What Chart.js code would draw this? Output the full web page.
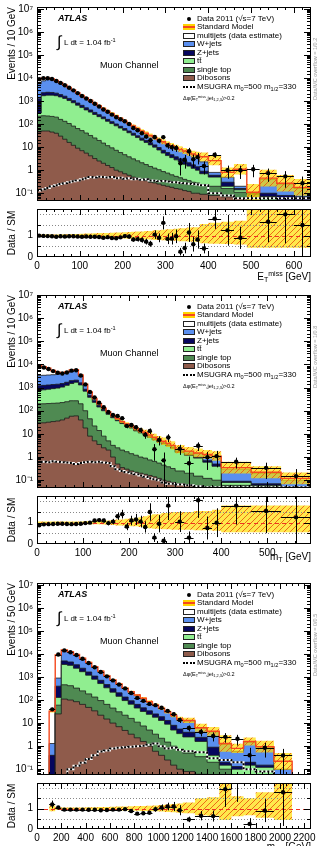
<!DOCTYPE html>
<html>
<head>
<meta charset="utf-8">
<title>Muon channel control distributions</title>
<script src="https://cdn.jsdelivr.net/npm/chart.js@4.4.1/dist/chart.umd.min.js"></script>
<style>
  html, body { margin: 0; padding: 0; background: #fff; }
  body { position: relative; width: 321px; height: 846px; overflow: hidden;
         font-family: "Liberation Sans", Arial, Helvetica, sans-serif; color: #000; }
  canvas { position: absolute; left: 0; }
  .lbl { position: absolute; white-space: nowrap; line-height: 1; }
  .lbl sub { font-size: 70%; vertical-align: -0.3em; line-height: 0; }
  .lbl sup { font-size: 70%; vertical-align: 0.55em; line-height: 0; }
  .atlas { font-weight: bold; font-style: italic; font-size: 9px; }
  .leg { font-size: 8px; }
  .sw { position: absolute; width: 12px; height: 6px; box-sizing: border-box; border: 1px solid #222; }
  .ovf { font-size: 5.5px; color: #999; transform-origin: left top; transform: rotate(-90deg); }
  .xt { font-size: 10px; }
</style>
</head>
<body>
<canvas id="main1" width="321" height="205" style="top:0px"></canvas>
<canvas id="ratio1" width="321" height="80" style="top:205px"></canvas>
<canvas id="main2" width="321" height="204" style="top:288px"></canvas>
<canvas id="ratio2" width="321" height="80" style="top:492px"></canvas>
<canvas id="main3" width="321" height="203" style="top:576px"></canvas>
<canvas id="ratio3" width="321" height="67" style="top:779px"></canvas>
<script>
// ---- E_T^miss panel (Events / 10 GeV). Stack arrays are the top edge of each layer.
const metEdges = [0,10,20,30,40,50,60,70,80,90,100,110,120,130,140,150,160,170,180,190,200,210,220,230,240,250,260,270,280,290,300,310,320,330,340,350,360,370,380,400,430,460,490,520,560,600,640];
const metDibosons = [45,50,50,45,40, 30,22,16,12,9, 7,5.5,4.2,3.2,2.5, 2.0,1.6,1.3,1.0,0.85, 0.7,0.6,0.5,0.45,0.4, 0.35,0.3,0.28,0.25,0.22, 0.2,0.18,0.16,0.15,0.13,0.12,0.1, 0.1, 0.09,0.08,0.07,0.06,0.05,0.04,0.03,0.03];
const metSingleTop = [220,230,225,215,200, 160,132,106,82,64, 52,41,32,25,19.5, 15,11.6,9.3,7.3,5.85, 4.7,3.8,3.1,2.55,2.1, 1.75,1.45,1.23,1.05,0.87, 0.75,0.63,0.54,0.47,0.4,0.35,0.3, 0.28, 0.24,0.2,0.16,0.11,0.09,0.07,0.05,0.05];
const metTtbar = [300,1700,1800,1800,1700, 1500,1300,1050,840,660, 520,410,330,260,210, 170,132,105,84,67, 54,42,33,26,20, 16,12.5,10,7.5,5.5, 4.3,3.5,2.8,2.3,1.8,1.5,1.2, 1.0, 0.7,0.5,0.2,0.14,0.09,0.07,0.05,0.05];
const metZjets = [1250,2300,2400,2350,2200, 1900,1620,1300,1040,820, 650,510,410,320,255, 205,160,127,101,80, 64,50,40,31,24.5, 19.5,15.5,12.5,9.6,7.3, 5.8,4.7,3.8,3.1,2.5,2.1,1.7, 1.4, 0.9,0.6,0.3,0.16,0.1,0.1,0.08,0.07];
const metWjets = [5600,7500,8500,8600,7500, 6200,4950,3870,2985,2292, 1745,1347,1048,798,619, 479,369,289,224,174, 134,104,81,63,49.5, 39.6,31.7,25.7,20.8,16.8, 13.8,11.3,9.3,7.8,6.6,5.6,4.8, 4.3, 2.3,0.8,0.5,0.2,0.1,0.4,0.25,0.16];
const metSM = [8900,10000,10000,9300,7800, 6300,5000,3900,3000,2300, 1750,1350,1050,800,620, 480,370,290,225,175, 135,105,82,64,50, 40,32,26,21,17, 14,11.5,9.5,8,6.8,5.8,5.0, 4.5, 3.8,2.6,0.8,1.1,0.11,0.45,0.27,0.18];
const metDataOverSM = [1.00,0.99,0.98,0.97,0.95, 0.97,0.96,0.97,0.97,0.96, 0.95,0.96,0.95,0.95,0.94, 0.90,0.93,0.89,0.88,0.92, 0.98,0.96,0.82,0.84,0.80, 0.72,0.62,1.05,0.90,1.60, 0.85,0.86,0.97,0.25,0.42,1.15,0.60, 0.82, 0.40,1.80,1.25,0.90,10,1.65,2.0,1.5];
const metMsugra = [0.13,0.15,0.17,0.2,0.22, 0.25,0.27,0.3,0.33,0.36, 0.4,0.45,0.5,0.48,0.52, 0.5,0.48,0.5,0.45,0.47, 0.42,0.45,0.4,0.42,0.38, 0.4,0.36,0.35,0.33,0.34, 0.32,0.3,0.3,0.28,0.27,0.26,0.25, 0.24, 0.22,0.1,0.08,0.06,0.06,0.06,0.06,0.06];
const metUnc = [0.05,0.05,0.05,0.05,0.06, 0.06,0.07,0.07,0.08,0.08, 0.09,0.1,0.1,0.11,0.12, 0.12,0.13,0.14,0.15,0.15, 0.16,0.17,0.18,0.2,0.2, 0.22,0.22,0.25,0.25,0.28, 0.3,0.3,0.32,0.35,0.35,0.38,0.4, 0.4, 0.55,0.6,0.65,0.7,1.3,1.3,1.3,1.3];

// ---- m_T panel (Events / 10 GeV)
const mtEdges = [0,10,20,30,40,50,60,70,80,90,100,110,120,130,140,150,160,170,180,190,200,210,220,230,240,250,260,270,280,290,300,320,340,360,380,400,465,530,595];
const mtDibosons = [30,30,32,34,36, 40,48,58,60,40, 18,8,5,3.5,2.5, 2.0,1.0,0.5,0.35,0.3, 0.25,0.22,0.2,0.18,0.16, 0.14,0.12,0.1,0.09,0.08, 0.07,0.06,0.05,0.05,0.04, 0.03,0.03,0.02];
const mtSingleTop = [200,200,205,210,215, 225,245,270,270,200, 100,45,22,14,8, 5,3.2,2.5,2.0,1.7, 1.4,1.2,1.0,0.9,0.75, 0.65,0.55,0.45,0.38,0.32, 0.25,0.2,0.15,0.12,0.1, 0.06,0.06,0.05];
const mtTtbar = [750,800,850,900,950, 1050,1250,1500,1700,1300, 700,380,230,145,100, 70,50,37,28,22, 18,13.5,11,9,7, 5.6,4.5,3.7,3.0,2.4, 1.6,1.2,0.9,0.6,0.4, 0.08,0.06,0.05];
const mtZjets = [1200,1250,1300,1350,1400, 1500,1700,2000,2100,1600, 850,450,270,170,115, 80,56,41,31,24.5, 20,15.2,12.3,10,7.8, 6.2,5.0,4.1,3.3,2.65, 1.8,1.35,1.0,0.7,0.5, 0.09,0.07,0.05];
const mtWjets = [3300,3400,3500,3600,3800, 4100,4700,5700,5950,3480, 1395,648,339,199,129, 89,61.5,45.5,33.7,26.8, 21.8,16.8,13.8,11.3,8.8, 7.0,5.6,4.65,3.75,3.1, 2.1,1.7,1.4,1.2,1.0, 0.3,0.2,0.1];
const mtSM = [9000,8000,6800,5500,4600, 4300,4800,5800,6000,3500, 1400,650,340,200,130, 90,62,46,34,27, 22,17,14,11.5,9.0, 7.2,5.8,4.8,3.9,3.2, 2.2,1.8,1.5,1.3,1.1, 0.35,0.22,0.12];
const mtDataOverSM = [0.88,0.92,0.93,0.94,0.95, 0.95,0.94,0.93,0.94,0.95, 0.98,1.0,1.1,1.12,1.1, 0.98,1.05,1.3,1.4,0.82, 1.1,1.15,1.05,0.8,1.5, 0.3,0.95,0.15,1.8,null, 1.05,0.3,2.05,0.75,1.0, 1.8,1.55,1.25];
const mtMsugra = [0.6,0.62,0.6,0.65,0.62, 0.6,0.58,0.55,0.5,0.55, 0.6,0.62,0.6,0.63,0.58, 0.55,0.4,0.3,0.25,0.22, 0.2,0.18,0.16,0.14,0.12, 0.11,0.1,0.08,0.07,0.07, 0.065,0.06,0.055,0.05,0.05, 0.05,0.05,0.05];
const mtUnc = [0.05,0.05,0.05,0.05,0.05, 0.05,0.05,0.05,0.05,0.06, 0.07,0.08,0.08,0.08,0.09, 0.1,0.12,0.15,0.15,0.18, 0.2,0.2,0.25,0.3,0.35, 0.4,0.4,0.45,0.45,0.5, 0.5,0.5,0.55,0.55,0.6, 0.8,0.8,0.8];

// ---- m_eff panel (Events / 50 GeV)
const meffEdges = [100,150,200,250,300,350,400,450,500,550,600,650,700,750,800,850,900,950,1000,1050,1100,1150,1200,1300,1400,1500,1600,1700,1800,1950,2100];
const meffDibosons = [0.03,25,110,100,85, 65,48,34,22,15, 10,7,4.8,3.3,2.3, 1.6,1.0,0.6,0.4,0.25, 0.15,0.1, 0.08,0.06,0.04,0.03,0.02,0.02,0.02,0.01];
const meffSingleTop = [0.04,60,460,420,330, 250,185,135,95,65, 45,31,22,16,11, 7.5,5,3.3,2.2,1.5, 1.0,0.7, 0.5,0.35,0.2,0.1,0.05,0.05,0.04,0.02];
const meffTtbar = [0.05,130,3500,3200,2400, 1700,1200,800,520,340, 220,145,95,66,45, 32,24,18,13,9, 5,3.5, 2.5,1.6,0.4,0.15,0.1,0.15,0.12,0.03];
const meffZjets = [0.4,400,5000,4500,3400, 2400,1650,1100,720,470, 310,205,135,93,65, 46,34,25,19,13, 8,5.5, 4,2.4,0.9,0.2,0.13,0.2,0.15,0.04];
const meffWjets = [1.3,900,13000,11500,9000, 6200,4150,2700,1740,1110, 725,485,320,223,160, 116,82,60,42.5,30, 21,14.5, 12.5,6.0,4.2,1.2,0.6,1.5,0.9,0.1];
const meffSM = [33,9000,15000,12500,9500, 6500,4300,2800,1800,1150, 750,500,330,230,165, 120,85,62,44,31, 22,15, 13,6.3,4.4,1.3,0.8,1.6,0.95,0.22];
const meffDataOverSM = [1.2,1.05,0.95,0.95,0.95, 0.95,0.94,0.94,0.92,0.93, 0.95,0.95,0.97,0.88,0.75, 0.77,0.8,0.97,1.05,1.1, 1.1,0.92, 0.47,0.65,0.63,1.95,2.6,0.25,0.9,1.8];
const meffMsugra = [0.01,0.02,0.05,0.1,0.14, 0.19,0.28,0.4,0.58,0.65, 0.8,0.85,0.9,0.95,1.0, 1.05,1.15,1.3,1.0,0.8, 0.85,0.7, 0.6,0.55,0.3,0.25,0.2,0.1,0.08,0.05];
const meffUnc = [0.15,0.06,0.05,0.05,0.05, 0.05,0.06,0.06,0.07,0.08, 0.09,0.1,0.1,0.11,0.12, 0.13,0.14,0.15,0.17,0.2, 0.22,0.25, 0.3,0.5,0.55,1.3,0.6,0.5,0.8,1.3];

Chart.defaults.font.family = '"Liberation Sans", Arial, Helvetica, sans-serif';
Chart.defaults.color = '#000';

const SUP = {'-': '⁻', '0': '⁰', '1': '¹', '2': '²', '3': '³', '4': '⁴', '5': '⁵', '6': '⁶', '7': '⁷', '8': '⁸', '9': '⁹'};
function logLabel(v) {
  const l = Math.log10(v), r = Math.round(l);
  if (Math.abs(l - r) > 1e-6) return '';
  if (r === 0) return '1';
  if (r === 1) return '10';
  return '10' + String(r).split('').map(c => SUP[c]).join('');
}

// histogram outline as points for a stepped line
function steps(edges, vals, close) {
  const pts = [];
  const n = edges.length - 1;
  if (close) pts.push({x: edges[0], y: 1e-4});
  vals.forEach((v, i) => pts.push({x: edges[i], y: v}));
  pts.push({x: edges[n], y: vals[n - 1]});
  if (close) pts.push({x: edges[n], y: 1e-4});
  return pts;
}

function makeHatch() {
  const c = document.createElement('canvas');
  c.width = 6; c.height = 6;
  const g = c.getContext('2d');
  g.fillStyle = 'rgba(255,222,0,0.7)';
  g.fillRect(0, 0, 6, 6);
  g.strokeStyle = 'rgba(235,100,20,0.95)';
  g.lineWidth = 1;
  g.beginPath();
  g.moveTo(0, 6); g.lineTo(6, 0);
  g.moveTo(-3, 3); g.lineTo(3, -3);
  g.moveTo(3, 9); g.lineTo(9, 3);
  g.stroke();
  return g.createPattern(c, 'repeat');
}

// fixed axis boxes so every panel lines up
function fixY(s) { s.width = 37; s.paddingTop = 0; s.paddingBottom = 0; }
function fixX(h) { return s => { s.height = h; s.paddingLeft = 0; s.paddingRight = 0; }; }

// frame, inward ticks, reference lines and error bars (ROOT look)
const rootStyle = {
  id: 'rootStyle',
  beforeDatasetDraw(chart, args, opts) {
    const ds = chart.data.datasets[args.index];
    if (!ds.errorBars) return;
    const {ctx, chartArea: a, scales: {x, y}} = chart;
    ctx.save();
    ctx.beginPath();
    ctx.rect(a.left, a.top, a.right - a.left, a.bottom - a.top);
    ctx.clip();
    const hline = (py) => { ctx.beginPath(); ctx.moveTo(a.left, py); ctx.lineTo(a.right, py); ctx.stroke(); };
    if (opts.ratio) {
      ctx.lineWidth = 1;
      ctx.strokeStyle = '#888';
      ctx.setLineDash([1, 2]);
      [0.5, 1.5, 2].forEach(v => hline(Math.round(y.getPixelForValue(v)) + 0.5));
      ctx.strokeStyle = '#ee3322';
      ctx.setLineDash([4, 3]);
      hline(Math.round(y.getPixelForValue(1)) + 0.5);
      ctx.setLineDash([]);
    }
    const py = v => (v > 0 || !opts.log) ? y.getPixelForValue(v) : a.bottom + 2;
    ctx.strokeStyle = '#000';
    ctx.lineWidth = 1;
    ctx.beginPath();
    ds.data.forEach(p => {
      const cx = Math.round(x.getPixelForValue(p.x)) + 0.5;
      const cy = Math.round(y.getPixelForValue(p.y)) + 0.5;
      ctx.moveTo(cx, py(p.yMax)); ctx.lineTo(cx, py(p.yMin));
      ctx.moveTo(x.getPixelForValue(p.xMin), cy); ctx.lineTo(x.getPixelForValue(p.xMax), cy);
    });
    ctx.stroke();
    ctx.restore();
  },
  afterDatasetsDraw(chart, args, opts) {
    const {ctx, chartArea: a, scales: {x, y}} = chart;
    ctx.save();
    ctx.strokeStyle = '#000';
    ctx.lineWidth = 1;
    ctx.strokeRect(a.left + 0.5, a.top + 0.5, a.right - a.left - 1, a.bottom - a.top - 1);
    ctx.beginPath();
    x.ticks.forEach(t => {
      const px = Math.round(x.getPixelForValue(t.value)) + 0.5;
      if (px <= a.left + 1 || px >= a.right - 1) return;
      const len = Math.abs(t.value % opts.xMajor) < 1e-6 ? 6 : 3;
      ctx.moveTo(px, a.bottom); ctx.lineTo(px, a.bottom - len);
      ctx.moveTo(px, a.top); ctx.lineTo(px, a.top + len);
    });
    y.ticks.forEach(t => {
      const py = Math.round(y.getPixelForValue(t.value)) + 0.5;
      if (py <= a.top + 1 || py >= a.bottom - 1) return;
      const major = opts.log ? logLabel(t.value) !== '' : Number.isInteger(t.value);
      const len = major ? 7 : 4;
      ctx.moveTo(a.left, py); ctx.lineTo(a.left + len, py);
      ctx.moveTo(a.right, py); ctx.lineTo(a.right - len, py);
    });
    ctx.stroke();
    ctx.restore();
  }
};

function drawPanel(p) {
  const {edges, sm, unc, unit} = p;
  const mids = edges.slice(0, -1).map((e, i) => (e + edges[i + 1]) / 2);
  const dataPts = [], ratioPts = [];
  p.dataOverSM.forEach((r, i) => {
    if (r == null) return;
    const d = r * sm[i];
    const err = Math.sqrt(d * unit / (edges[i + 1] - edges[i]));
    const common = {x: mids[i], xMin: edges[i], xMax: edges[i + 1]};
    dataPts.push(Object.assign({y: d, yMin: d - err, yMax: d + err}, common));
    ratioPts.push(Object.assign({y: r, yMin: (d - err) / sm[i], yMax: (d + err) / sm[i]}, common));
  });

  const line = (vals, extra) => Object.assign({
    data: steps(edges, vals, false), stepped: true, pointRadius: 0, fill: false,
    borderColor: 'rgba(0,0,0,0)', borderWidth: 1
  }, extra);
  const layer = (vals, color, order, border) => ({
    data: steps(edges, vals, true), stepped: true, pointRadius: 0, fill: 'start',
    backgroundColor: color, borderColor: border || '#1c1c1c', borderWidth: 0.8, order
  });
  const points = pts => ({
    data: pts, showLine: false, pointRadius: 2.2, pointBackgroundColor: '#000',
    pointBorderWidth: 0, errorBars: true, order: 0
  });
  const base = (padTop) => ({
    responsive: false, animation: false, events: [],
    layout: {padding: {top: padTop, right: 10, left: 0, bottom: 0}}
  });

  new Chart(document.getElementById(p.mainId), {
    type: 'line',
    data: {datasets: [
      points(dataPts),
      line(p.msugra, {borderColor: '#000', borderWidth: 2, borderDash: [2, 2], order: 1}),
      line(p.msugra, {borderColor: '#fff', borderWidth: 2, order: 1.5}),
      {data: steps(edges, sm, true), stepped: true, pointRadius: 0, fill: false,
       borderColor: '#f5481e', borderWidth: 1.4, order: 2},
      line(sm.map((v, i) => v * (1 + unc[i])), {fill: '+1', backgroundColor: makeHatch(), order: 3}),
      line(sm.map((v, i) => v / (1 + unc[i])), {order: 4}),
      layer(p.dibosons, '#8f5b4b', 5),
      layer(p.singleTop, '#4f8a52', 6),
      layer(p.ttbar, '#90ee90', 7),
      layer(p.zjets, '#06065e', 8),
      layer(p.wjets, '#5a8fef', 9),
      layer(sm, '#ffffff', 10, 'rgba(0,0,0,0)')
    ]},
    options: Object.assign(base(7), {
      plugins: {legend: {display: false}, tooltip: {enabled: false},
                rootStyle: {log: true, xMajor: p.xMajor}},
      scales: {
        x: {type: 'linear', min: 0, max: p.xMax,
            ticks: {display: false, stepSize: p.xStep},
            grid: {display: false, drawTicks: false}, border: {display: false},
            afterFit: fixX(0)},
        y: {type: 'logarithmic', min: p.yMin, max: p.yMax,
            ticks: {autoSkip: false, callback: logLabel, font: {size: 10}, padding: 4},
            grid: {display: false, drawTicks: false}, border: {display: false},
            title: {display: true, text: p.yTitle, align: 'end', font: {size: 10}, padding: {top: 6, bottom: 0}},
            afterFit: fixY}
      }
    }),
    plugins: [rootStyle]
  });

  new Chart(document.getElementById(p.ratioId), {
    type: 'line',
    data: {datasets: [
      points(ratioPts),
      line(unc.map(u => 1 + u), {fill: '+1', backgroundColor: makeHatch(), order: 3}),
      line(unc.map(u => 1 / (1 + u)), {order: 4})
    ]},
    options: Object.assign(base(p.ratioPad), {
      plugins: {legend: {display: false}, tooltip: {enabled: false},
                rootStyle: {ratio: true, log: false, xMajor: p.xMajor}},
      scales: {
        x: {type: 'linear', min: 0, max: p.xMax,
            ticks: {stepSize: p.xStep, autoSkip: false, maxRotation: 0, padding: 3, font: {size: 10},
                    callback: v => Math.abs(v % p.xMajor) < 1e-6 ? String(v) : ''},
            grid: {display: false, drawTicks: false}, border: {display: false},
            afterFit: fixX(p.ratioAxis)},
        y: {type: 'linear', min: 0, max: 2.25,
            ticks: {stepSize: 0.5, autoSkip: false, font: {size: 10}, padding: 4,
                    callback: v => Number.isInteger(v) ? String(v) : ''},
            grid: {display: false, drawTicks: false}, border: {display: false},
            title: {display: true, text: 'Data / SM', font: {size: 10}, padding: {top: 6, bottom: 0}},
            afterFit: fixY}
      }
    }),
    plugins: [rootStyle]
  });
}

const legendRows = [
  ['Data 2011 (√s=7 TeV)', 'dot'],
  ['Standard Model', 'sm'],
  ['multijets (data estimate)', '#ffffff'],
  ['W+jets', '#5a8fef'],
  ['Z+jets', '#06065e'],
  ['tt&#772;', '#90ee90'],
  ['single top', '#4f8a52'],
  ['Dibosons', '#8f5b4b'],
  ['MSUGRA m<sub>0</sub>=500 m<sub>1/2</sub>=330', 'dash']
];

function add(html, cls, style) {
  const d = document.createElement('div');
  d.className = 'lbl ' + cls;
  d.innerHTML = html;
  Object.assign(d.style, style);
  document.body.appendChild(d);
  return d;
}

function annotate(top, overflow, xTitle, xTitleTop) {
  add('ATLAS', 'atlas', {left: '58px', top: (top + 7) + 'px'});
  add('∫', '', {left: '57px', top: (top + 27) + 'px', fontSize: '16px'});
  add('L dt = 1.04 fb<sup>-1</sup>', 'leg', {left: '64px', top: (top + 32) + 'px'});
  add('Muon Channel', '', {left: '100px', top: (top + 54) + 'px', fontSize: '9px'});
  legendRows.forEach(([text, kind], i) => {
    const cy = top + 12 + 8.45 * i;
    add(text, 'leg', {left: '197px', top: (cy - 4) + 'px'});
    const sw = document.createElement('div');
    if (kind === 'dot') {
      Object.assign(sw.style, {position: 'absolute', left: '187px', top: (cy - 2) + 'px', width: '4px', height: '4px',
                               borderRadius: '50%', background: '#000'});
    } else if (kind === 'sm') {
      Object.assign(sw.style, {position: 'absolute', left: '183px', top: (cy - 3) + 'px', width: '12px', height: '6px',
                               background: 'linear-gradient(#ffd400 0 35%, #f5481e 35% 65%, #ffd400 65%)'});
    } else if (kind === 'dash') {
      Object.assign(sw.style, {position: 'absolute', left: '183px', top: (cy - 1) + 'px', width: '12px', height: '0',
                               borderTop: '2px dotted #000'});
    } else {
      sw.className = 'sw';
      Object.assign(sw.style, {left: '183px', top: (cy - 3) + 'px', background: kind});
    }
    document.body.appendChild(sw);
  });
  add('Δφ(E<sub>T</sub><sup>miss</sup>,jet<sub>1,2,3</sub>)&gt;0.2', '', {left: '183px', top: (top + 89) + 'px', fontSize: '5.5px'});
  add('Data/MC overflow = ' + overflow, 'ovf', {left: '313px', top: (top + 93) + 'px'});
  add(xTitle, 'xt', {right: '10px', top: xTitleTop + 'px'});
}

drawPanel({mainId: 'main1', ratioId: 'ratio1', edges: metEdges, dibosons: metDibosons, singleTop: metSingleTop,
  ttbar: metTtbar, zjets: metZjets, wjets: metWjets, sm: metSM, dataOverSM: metDataOverSM, msugra: metMsugra,
  unc: metUnc, unit: 10, xMax: 640, xStep: 20, xMajor: 100, yMin: 0.046, yMax: 1.2e7,
  yTitle: 'Events / 10 GeV', ratioPad: 1, ratioAxis: 28});
drawPanel({mainId: 'main2', ratioId: 'ratio2', edges: mtEdges, dibosons: mtDibosons, singleTop: mtSingleTop,
  ttbar: mtTtbar, zjets: mtZjets, wjets: mtWjets, sm: mtSM, dataOverSM: mtDataOverSM, msugra: mtMsugra,
  unc: mtUnc, unit: 10, xMax: 595, xStep: 20, xMajor: 100, yMin: 0.046, yMax: 1e7,
  yTitle: 'Events / 10 GeV', ratioPad: 1, ratioAxis: 28});
drawPanel({mainId: 'main3', ratioId: 'ratio3', edges: meffEdges, dibosons: meffDibosons, singleTop: meffSingleTop,
  ttbar: meffTtbar, zjets: meffZjets, wjets: meffWjets, sm: meffSM, dataOverSM: meffDataOverSM, msugra: meffMsugra,
  unc: meffUnc, unit: 50, xMax: 2255, xStep: 50, xMajor: 200, yMin: 0.056, yMax: 1.2e7,
  yTitle: 'Events / 50 GeV', ratioPad: 2, ratioAxis: 17});

annotate(7, '1/0.2', 'E<sub>T</sub><sup>miss</sup> [GeV]', 272);
annotate(295, '1/0.8', 'm<sub>T</sub> [GeV]', 552);
annotate(583, '0/0.5', 'm<sub>eff</sub> [GeV]', 842);
</script>
</body>
</html>
